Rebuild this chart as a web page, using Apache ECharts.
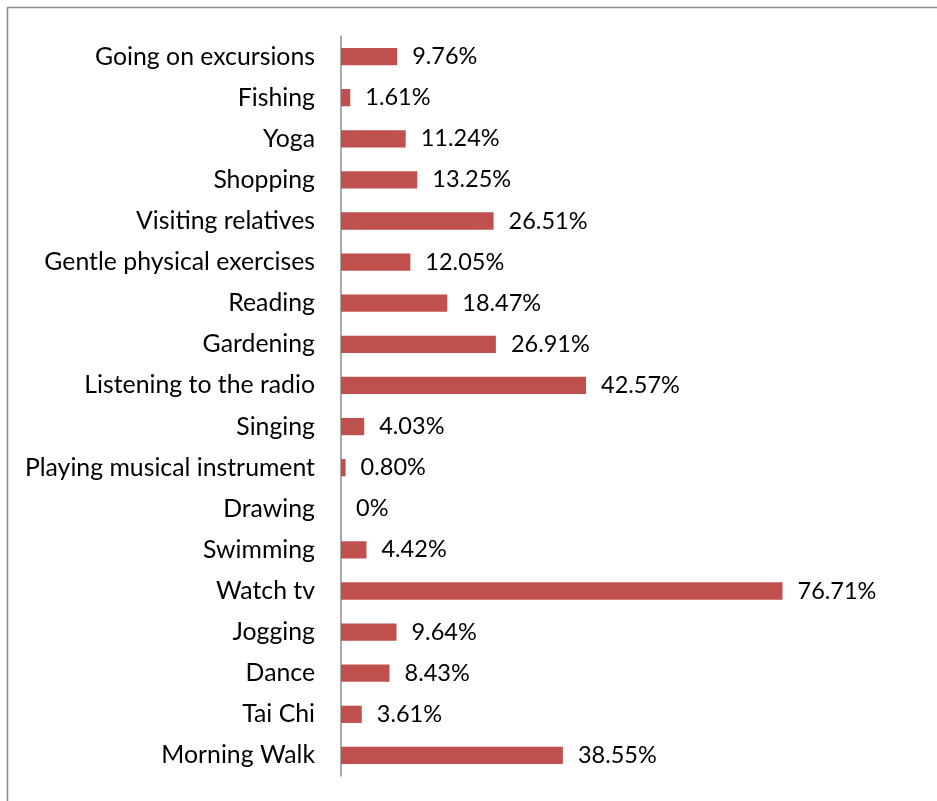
<!DOCTYPE html>
<html>
<head>
<meta charset="utf-8">
<script src="https://cdn.jsdelivr.net/npm/echarts@6/dist/echarts.min.js"></script>
<style>
  html, body { margin: 0; padding: 0; background: #fff; }
  #chart { width: 937px; height: 801px; }
</style>
</head>
<body>
<div id="chart"></div>
<script>
// Leisure activities, listed bottom-to-top
const activities = [
  'Morning Walk', 'Tai Chi', 'Dance', 'Jogging', 'Watch tv', 'Swimming',
  'Drawing', 'Playing musical instrument', 'Singing', 'Listening to the radio',
  'Gardening', 'Reading', 'Gentle physical exercises', 'Visiting relatives',
  'Shopping', 'Yoga', 'Fishing', 'Going on excursions'
];
const shares = [
  38.55, 3.61, 8.43, 9.64, 76.71, 4.42,
  0, 0.80, 4.03, 42.57,
  26.91, 18.47, 12.05, 26.51,
  13.25, 11.24, 1.61, 9.76
];

const fontFamily = 'Lato, "Open Sans", sans-serif';
const chart = echarts.init(document.getElementById('chart'));

chart.setOption({
  animation: false,
  backgroundColor: '#ffffff',
  grid: { left: 341, right: 78, top: 36, bottom: 25, containLabel: false },
  xAxis: {
    type: 'value',
    min: 0,
    max: 90,
    interval: 10,
    show: false
  },
  yAxis: {
    type: 'category',
    data: activities,
    axisLine: { show: true, lineStyle: { color: '#8c8c8c', width: 1.5 } },
    axisTick: { show: false },
    axisLabel: { color: '#000', fontFamily: fontFamily, fontSize: 24.8, margin: 26, padding: [3, 0, 0, 0] },
    splitLine: { show: false }
  },
  series: [{
    type: 'bar',
    data: shares,
    barCategoryGap: '58%',
    itemStyle: { color: '#c0504d' },
    label: {
      show: true,
      position: 'right',
      distance: 15,
      color: '#000',
      fontFamily: fontFamily,
      fontSize: 23.5,
      padding: [3, 0, 0, 0],
      formatter: p => p.value === 0 ? '0%' : p.value.toFixed(2) + '%'
    }
  }],
  graphic: [
    { type: 'line', shape: { x1: 7, y1: 7.5, x2: 937, y2: 7.5 }, style: { stroke: '#8c8c8c', lineWidth: 1.5 } },
    { type: 'line', shape: { x1: 7.5, y1: 7, x2: 7.5, y2: 801 }, style: { stroke: '#8c8c8c', lineWidth: 1.5 } }
  ]
});
</script>
</body>
</html>
